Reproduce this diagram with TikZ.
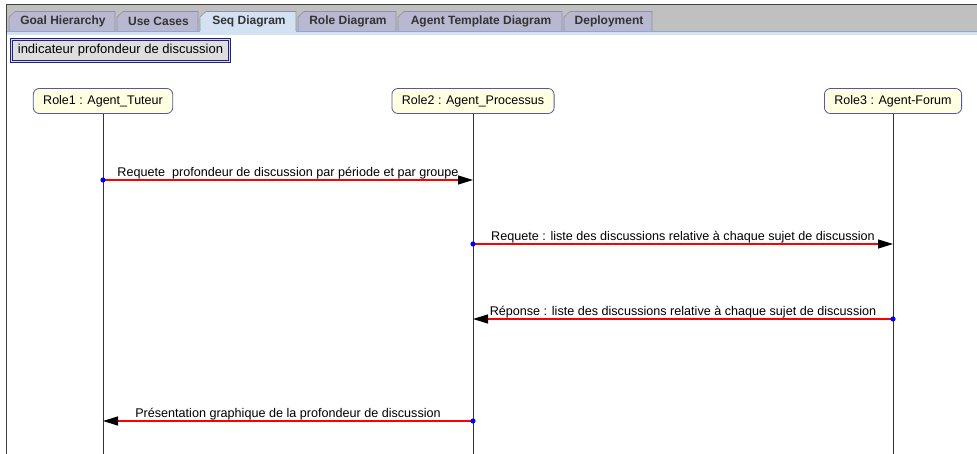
\documentclass[tikz,border=0pt]{standalone}
\usepackage{fontspec}
\setmainfont{Liberation Sans}
\usetikzlibrary{arrows.meta,positioning}
\definecolor{bargray}{HTML}{C0C0C0}
\definecolor{tabfill}{HTML}{B8B8D0}
\definecolor{tabsel}{HTML}{D3E2F3}
\definecolor{tabline}{HTML}{9090A8}
\definecolor{stripline}{HTML}{8FA7CE}
\definecolor{navy}{HTML}{23237F}
\definecolor{btngap}{HTML}{D6D6EE}
\definecolor{btnfill}{HTML}{DEDEDE}
\definecolor{roleyellow}{HTML}{FFFFE1}
\definecolor{roleline}{HTML}{5656A8}
\definecolor{msgred}{HTML}{FF0000}

\begin{document}
\begin{tikzpicture}[
  x=1pt, y=-1pt,
  every node/.style = {inner sep=0pt, font=\fontsize{12.6}{14}\selectfont},
  tabshape/.style = {fill=tabfill, draw=tabline, line width=0.6pt},
  tabtext/.style = {font=\fontsize{12}{14}\bfseries\selectfont, text=black!80},
  btn/.style = {draw=navy, line width=1.2pt, double=btngap, double distance=1pt, fill=btnfill,
                minimum width=218pt, minimum height=22pt, font=\fontsize{13}{15}\selectfont},
  role/.style = {draw=roleline, fill=roleyellow, rounded corners=6pt, line width=0.8pt,
                 minimum height=25pt, inner xsep=10pt, font=\fontsize{12.5}{14}\selectfont},
  life/.style = {draw=black!80, line width=0.9pt},
  msg/.style = {draw=msgred, line width=1.3pt,
                -{Triangle[length=15pt,width=9pt,color=black]}},
  lbl/.style = {above=0.6pt, text=black}
]
  \useasboundingbox (0,0) rectangle (977,454);

  % tab bar
  \fill[bargray] (6,4.5) rectangle (977,31);
  \draw[black!75, line width=1pt] (6,4.5) -- (977,4.5);
  \foreach \a/\b/\t [count=\i] in {9/115/Goal Hierarchy, 117/198/Use Cases,
      298/396/Role Diagram, 398/562/Agent Template Diagram, 564/652/Deployment} {
    \filldraw[tabshape] (\a,31) -- (\a,17) -- (\a+6,11.5) -- (\b,11.5) -- (\b,31);
    \node[tabtext] (tab\i) at ({(\a+\b)/2+1},21.5) {\t};
  }
  \filldraw[tabshape, fill=tabsel] (200,33) -- (200,17) -- (206,11.5) -- (296,11.5) -- (296,33);
  \node[tabtext] (seqtab) at (249,21.5) {Seq Diagram};
  \fill[tabsel] (6,31) rectangle (977,35);
  \draw[stripline, line width=0.8pt] (6,31) -- (200,31) (296,31) -- (977,31);
  \draw[black!75, line width=1pt] (6,4.5) -- (6,454);

  \node[btn] (goal) at (120.5,50.5) {indicateur profondeur de discussion};

  % roles and lifelines
  \node[role] (r1) at (103,101) {Role1 : Agent\_Tuteur};
  \node[role] (r2) at (473,101) {Role2 : Agent\_Processus};
  \node[role] (r3) at (893,101) {Role3 : Agent-Forum};
  \foreach \r in {r1,r2,r3} {
    \coordinate (\r end) at (\r.south |- 0,454);
    \draw[life] (\r.south) -- (\r end);
  }

  % messages
  \coordinate (m1a) at (r1.south |- 0,180); \coordinate (m1b) at (r2.south |- 0,180);
  \coordinate (m2a) at (r2.south |- 0,244); \coordinate (m2b) at (r3.south |- 0,244);
  \coordinate (m3a) at (r3.south |- 0,319); \coordinate (m3b) at (r2.south |- 0,319);
  \coordinate (m4a) at (r2.south |- 0,421); \coordinate (m4b) at (r1.south |- 0,421);
  \draw[msg] (m1a) -- node[lbl] (t1) {Requete\ \ profondeur de discussion par période et par groupe} (m1b);
  \draw[msg] (m2a) -- node[lbl] (t2) {Requete : liste des discussions relative à chaque sujet de discussion} (m2b);
  \draw[msg] (m3a) -- node[lbl] (t3) {Réponse : liste des discussions relative à chaque sujet de discussion} (m3b);
  \draw[msg] (m4a) -- node[lbl] (t4) {Présentation graphique de la profondeur de discussion} (m4b);
  \foreach \p in {m1a,m2a,m3a,m4a} \fill[blue] (\p) circle (2.6pt);
\end{tikzpicture}
\end{document}
